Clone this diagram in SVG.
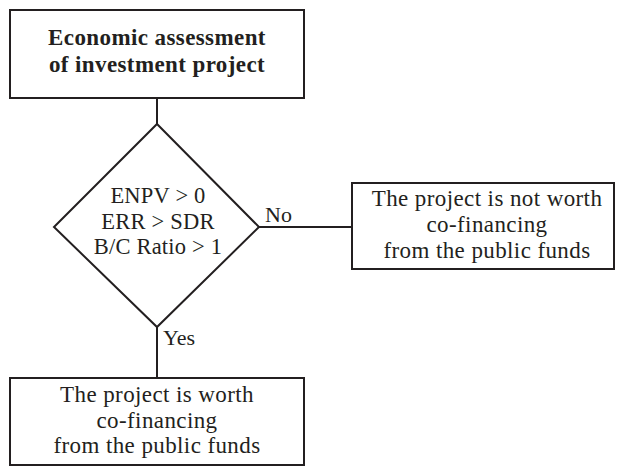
<svg xmlns="http://www.w3.org/2000/svg" width="617" height="467" viewBox="0 0 617 467">
  <style>
    .box { fill: #ffffff; stroke: #231f20; stroke-width: 2; }
    .wire { fill: none; stroke: #231f20; stroke-width: 2; }
    text { font-family: "Liberation Serif", "Times New Roman", serif; fill: #231f20; font-size: 23px; letter-spacing: 0.4px; text-anchor: middle; }
    .title { font-weight: bold; }
    .cond { font-size: 22.5px; letter-spacing: 0.2px; }
    .lbl { text-anchor: start; font-size: 22px; letter-spacing: 0; }
  </style>
  <rect width="617" height="467" fill="#ffffff"/>

  <g id="connectors">
    <line class="wire" x1="157" y1="98" x2="157" y2="124"/>
    <line class="wire" x1="259" y1="227" x2="352" y2="227"/>
    <line class="wire" x1="157" y1="327" x2="157" y2="378"/>
    <text class="lbl" x="265" y="222">No</text>
    <text class="lbl" x="163" y="345">Yes</text>
  </g>

  <g id="assessment">
    <rect class="box" x="10" y="10" width="294" height="88"/>
    <text class="title" x="157" y="45">Economic assessment</text>
    <text class="title" x="157" y="72">of investment project</text>
  </g>

  <g id="criteria">
    <polygon class="box" points="157,124 259,227 157,327 54,227"/>
    <text class="cond" x="158" y="203">ENPV &gt; 0</text>
    <text class="cond" x="158" y="229">ERR &gt; SDR</text>
    <text class="cond" x="158" y="254">B/C Ratio &gt; 1</text>
  </g>

  <g id="not-worth">
    <rect class="box" x="352" y="183" width="262" height="86"/>
    <text x="487" y="206">The project is not worth</text>
    <text x="487" y="232">co-financing</text>
    <text x="487" y="258">from the public funds</text>
  </g>

  <g id="worth">
    <rect class="box" x="10" y="378" width="294" height="87"/>
    <text x="157" y="402">The project is worth</text>
    <text x="157" y="428">co-financing</text>
    <text x="157" y="453">from the public funds</text>
  </g>
</svg>
